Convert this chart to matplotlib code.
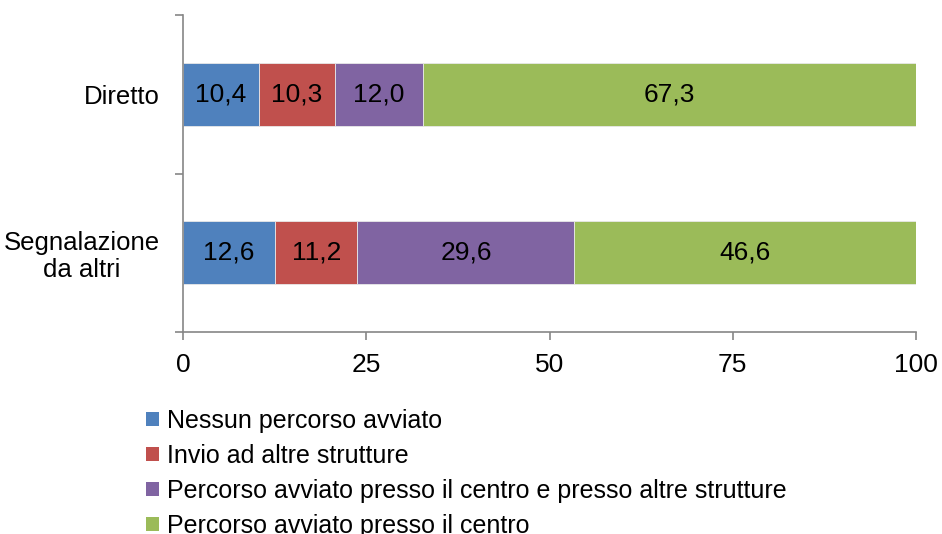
import matplotlib
matplotlib.use("Agg")
import matplotlib.pyplot as plt
from matplotlib.patches import Patch

categories = ["Diretto", "Segnalazione\nda altri"]
series_names = [
    "Nessun percorso avviato",
    "Invio ad altre strutture",
    "Percorso avviato presso il centro e presso altre strutture",
    "Percorso avviato presso il centro",
]
values = [
    [10.4, 12.6],
    [10.3, 11.2],
    [12.0, 29.6],
    [67.3, 46.6],
]
colors = ["#4F81BD", "#C0504D", "#8064A2", "#9BBB59"]
xticks = [0, 25, 50, 75, 100]

main = "Liberation Sans"

fig = plt.figure(figsize=(9.42, 5.34), dpi=100)
ax = fig.add_axes([183/942, 1-332/534, (916-183)/942, (332-15)/534])

ypos = list(range(len(categories)))
left = [0.0] * len(categories)
for vals, col in zip(values, colors):
    bars = ax.barh(ypos, vals, left=left, height=0.4, color=col,
                   edgecolor="#E8E8E8", linewidth=0.6)
    for b, v in zip(bars, vals):
        ax.text(b.get_x() + b.get_width()/2, b.get_y() + b.get_height()/2,
                f"{v:.1f}".replace(".", ","), ha="center", va="center",
                fontsize=19, family=main, color="black")
    left = [l + v for l, v in zip(left, vals)]

ax.set_xlim(0, 100)
ax.set_ylim(1.5, -0.5)
ax.set_xticks(xticks)
ax.set_xticklabels([str(t) for t in xticks], fontsize=19, family=main)
ax.set_yticks(ypos)
ax.set_yticklabels(categories, fontsize=18.5, family=main, ha="right",
                   multialignment="center", linespacing=1.15)
ax.set_yticks([-0.5, 0.5, 1.5], minor=True)
ax.tick_params(axis="y", which="major", length=0, pad=16.5)
ax.tick_params(axis="y", which="minor", length=6, color="#868686", width=1.2)
ax.tick_params(axis="x", length=6, color="#868686", width=1.2, pad=9)
for s in ["top", "right"]:
    ax.spines[s].set_visible(False)
for s in ["left", "bottom"]:
    ax.spines[s].set_color("#868686")
    ax.spines[s].set_linewidth(1.2)

handles = [Patch(facecolor=c, edgecolor="none") for c in colors]
fig.legend(handles, series_names, loc="upper left",
           bbox_to_anchor=(146/942, 1-409/534), frameon=False,
           prop={"family": main, "size": 18}, handlelength=0.52,
           handleheight=0.52, handletextpad=0.32, labelspacing=0.44,
           borderaxespad=0, borderpad=0)

fig.savefig("out.png", dpi=100)
